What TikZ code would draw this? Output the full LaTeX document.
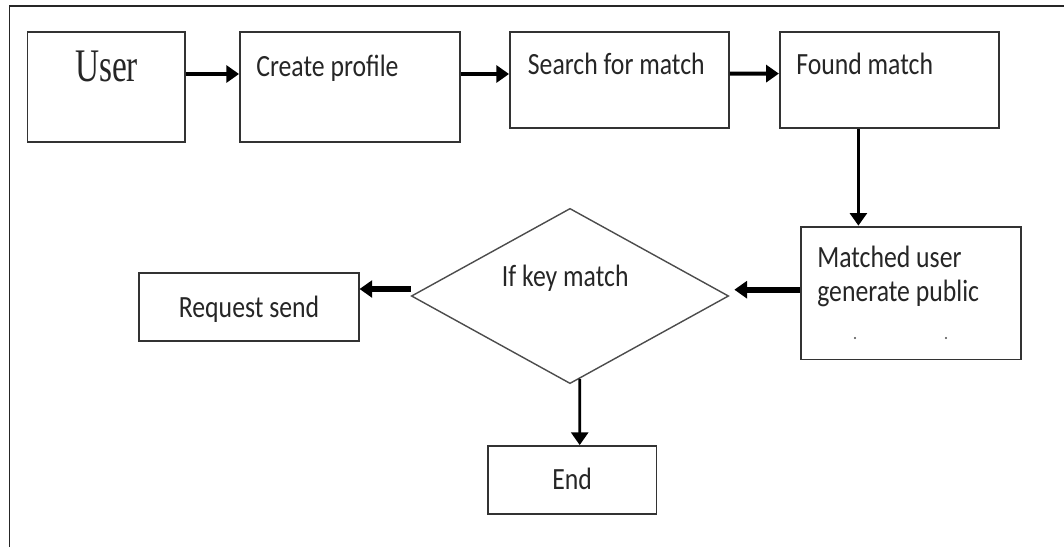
\documentclass[tikz,border=0pt]{standalone}
\usepackage{fontspec}
\usepackage{graphicx}
\setmainfont{Carlito}
\newfontfamily\userfont{Liberation Serif}
\usetikzlibrary{shapes.geometric, arrows.meta, calc}

\newcommand{\boxtext}[1]{\scalebox{1}[1.2]{\fontsize{18.3}{22}\selectfont #1}}
\newcommand{\usertext}[1]{\scalebox{1}[1.4]{\userfont\fontsize{23.7}{28}\selectfont #1}}

\tikzstyle{process} = [rectangle, minimum height=2.76cm, draw=black!80, line width=1.3pt, fill=white, inner sep=0pt]
\tikzstyle{decision} = [diamond, minimum width=7.93cm, minimum height=4.38cm, draw=black!70, line width=1pt, inner sep=0pt]
\tikzstyle{boxlabel} = [inner sep=0pt, anchor=base west, text=black!85]
\tikzstyle{arrow} = [line width=2.8pt, -{Triangle[length=9pt,width=12pt]}]

\begin{document}
\begin{tikzpicture}[x=0.025cm, y=-0.025cm]
            \useasboundingbox (0,0) rectangle (1064,547);
            \draw [line width=1pt, black!85] (9.3,547) -- (9.3,6.2) -- (1064,6.2);

            \node (user) [process, minimum width=3.94cm] at (106.3,86.8) {};
            \node (create) [process, minimum width=5.5cm] at (350,86.8) {};
            \node (search) [process, minimum width=5.47cm, minimum height=2.4cm] at (619.4,79.9) {};
            \node (found) [process, minimum width=5.48cm, minimum height=2.4cm] at (889.4,80) {};
            \node (matched) [process, minimum width=5.49cm, minimum height=3.32cm] at (910.9,293) {};
            \node (key_match) [decision] at (570,296) {};
            \node (request) [process, minimum width=5.49cm, minimum height=1.7cm] at (248.8,306.8) {};
            \node (end) [process, minimum width=4.21cm, minimum height=1.7cm] at (572.3,480) {};

            \node (user_txt) [boxlabel, anchor=base] at (106.5,81.7) {\usertext{User}};
            \node (create_txt) [boxlabel] at (256,76) {\boxtext{Create profile}};
            \node (search_txt) [boxlabel] at (527.6,74.7) {\boxtext{Search for match}};
            \node (found_txt) [boxlabel] at (796,74.7) {\boxtext{Found match}};
            \node (matched_txt) [boxlabel] at (817,267.3) {\boxtext{Matched user}};
            \node (public_txt) [boxlabel] at (817,301.7) {\boxtext{generate public}};
            \node (key_txt) [boxlabel] at (501.7,286.7) {\boxtext{If key match}};
            \node (request_txt) [boxlabel] at (178.6,317) {\boxtext{Request send}};
            \node (end_txt) [boxlabel] at (552,489) {\boxtext{End}};
            \fill [black!70] (855,338) circle (1.2) (946,338) circle (1.2);

            \coordinate (drop) at ($(found.south)+(-31,0)$);

            \draw [arrow] ($(user.east)+(0,-12.8)$) -- ($(create.west)+(0,-12.8)$);
            \draw [arrow] ($(create.east)+(0,-12.8)$) -- ($(search.west)+(0,-5.9)$);
            \draw [arrow] ($(search.east)+(0,-6.3)$) -- ($(found.west)+(0,-6.4)$);
            \draw [arrow, line width=2.5pt] (drop) -- (drop |- matched.north);
            \draw [arrow, line width=4pt] ($(matched.west)+(0,-3.3)$) -- ($(key_match.east)+(5,-6.3)$);
            \draw [arrow, line width=4pt] ($(key_match.west)+(0,-7)$) -- ($(request.east)+(0,-17.8)$);
            \draw [arrow, line width=2pt] ($(key_match.south)+(9.7,-5.4)$) -- ($(end.north)+(7.4,0)$);
        \end{tikzpicture}
\end{document}
